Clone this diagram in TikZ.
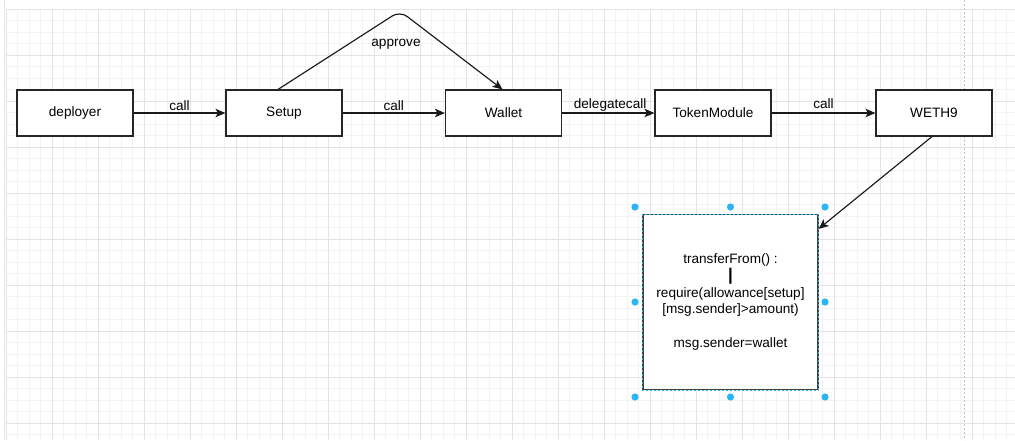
\documentclass[tikz,border=0pt]{standalone}
\usepackage{fontspec}
\setmainfont{Liberation Sans}
\usetikzlibrary{arrows.meta,calc}
\definecolor{gridminor}{HTML}{F3F3F3}
\definecolor{gridmajor}{HTML}{E4E4E4}
\definecolor{handle}{HTML}{29B6F2}
\newcommand\CanvasGrid[2]{
  \def\W{#1} \def\H{#2}
  \foreach \i in {0,...,87}
  {
    \draw[gridminor,line width=0.8pt] (6.3+11.5*\i,9.3) -- (6.3+11.5*\i,\H);
  }
  \foreach \j in {0,...,37}
  {
    \draw[gridminor,line width=0.8pt] (6.3,9.3+11.5*\j) -- (\W,9.3+11.5*\j);
  }
  \foreach \i in {0,...,21}
  {
    \draw[gridmajor,line width=0.9pt] (6.3+46*\i,9.3) -- (6.3+46*\i,\H);
  }
  \foreach \j in {0,...,9}
  {
    \draw[gridmajor,line width=0.9pt] (6.3,9.3+46*\j) -- (\W,9.3+46*\j);
  }
  \draw[gridmajor,line width=0.9pt] (4,0) -- (4,\H);
  \draw[gray!50,dash pattern=on 2pt off 2pt] (964,0) -- (964,\H);
}
\tikzset{
  block/.style={draw=black!85,fill=white,line width=1.15pt,minimum width=116pt,
    minimum height=46pt,inner sep=0pt},
  link/.style={draw=black!90,line width=1.15pt,
    -{Stealth[length=10pt,width=8.5pt,inset=2.5pt]}},
  lbl/.style={above,inner sep=1.5pt}
}
\begin{document}
\begin{tikzpicture}[x=1pt, y=-1pt, font=\fontsize{13.6}{16.8}\selectfont]
\useasboundingbox (0,0) rectangle (1015,440);
\fill[white] (0,0) rectangle (1015,440);
\CanvasGrid{1015}{440}

\node[block] (deployer) at (75,113) {deployer};
\node[block] (setup) at (284,113) {Setup};
\node[block] (wallet) at (503.5,113) {Wallet};
\node[block] (token) at (713,113) {TokenModule};
\node[block] (weth) at (934,113) {WETH9};
\node[draw=black!75,fill=white,line width=1.15pt,minimum width=175pt,
  minimum height=175pt,inner sep=0pt,align=center] (code) at (730.5,302)
  {transferFrom() :\\{\fontsize{17}{16.8}\selectfont\textbf{|}}\\require(allowance[setup]\\{}[msg.sender]>amount)\\ \\msg.sender=wallet};
\draw[handle,line width=0.6pt,dash pattern=on 2pt off 2pt]
  (code.north west) rectangle (code.south east);

% handles round the selected box
\foreach \hx/\hy in {635/207,730.5/207,825/207,635/302,825/302,635/397,730.5/397,825/397}
{
  \fill[handle] (\hx,\hy) circle [radius=3.6pt];
}

\coordinate (peak) at (400,11);
\coordinate (hit) at ($(code.north east)+(0,15)$);

  \draw[link] (deployer) -- node[lbl]{call} (setup);
  \draw[link] (setup) -- node[lbl]{call} (wallet);
  \draw[link] (wallet) -- node[lbl,pos=0.52]{delegatecall} (token);
  \draw[link] (token) -- node[lbl,yshift=2pt]{call} (weth);

  \draw[link,rounded corners=9pt] ([xshift=-6pt]setup.north) --
  (peak) -- ([xshift=-1pt]wallet.north);
\node (approve) at (396,44) {approve};

  \draw[link] ([xshift=-2pt]weth.south) -- (hit);
\end{tikzpicture}
\end{document}
